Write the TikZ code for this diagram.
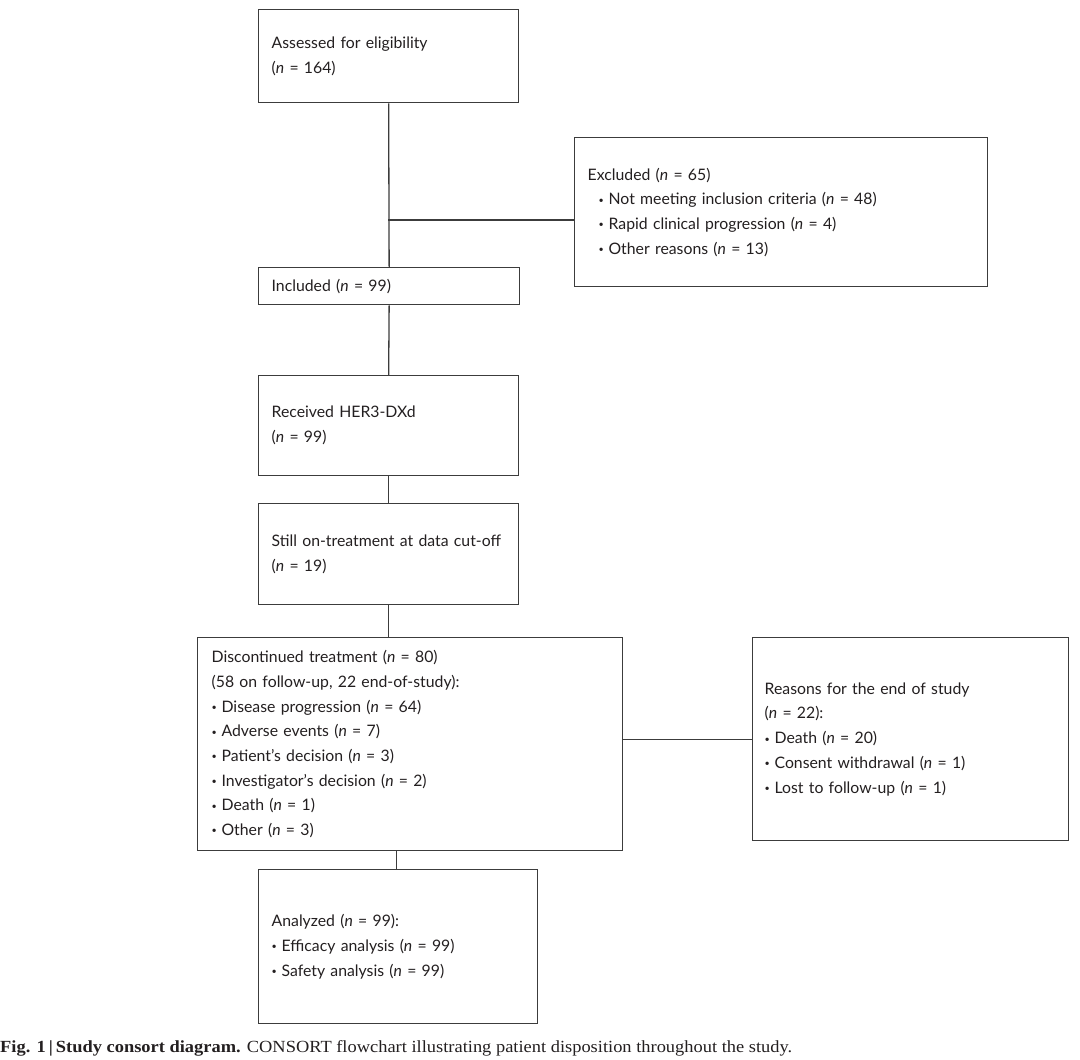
\documentclass[tikz,border=0pt]{standalone}
\usepackage{fontspec}
\usepackage{graphicx}
\setmainfont{Lato}
\newfontfamily\capfont{Liberation Serif}
\definecolor{linecol}{HTML}{3C3C3C}
\definecolor{textcol}{HTML}{231F20}
\newcommand{\nn}{\textit{n}}
\newcommand{\bul}{\raisebox{0.2ex}{\fontsize{9}{9}\selectfont\textbullet}\hspace{0.3em}}
\begin{document}
\begin{tikzpicture}[x=1pt,y=-1pt,
  box/.style={draw=linecol, line width=1.3pt, inner xsep=13pt, inner ysep=0pt,
    align=left, anchor=north west, text=textcol,
    font=\fontsize{15.8}{24.7}\selectfont},
  conn/.style={draw=linecol, line width=1.3pt}]
\useasboundingbox (0,0) rectangle (1080,1060);

\node[box, text width=234pt, minimum height=93pt] (b1) at (258,9)
  {Assessed for eligibility\\(\nn{} = 164)};
\node[box, text width=387pt, minimum height=149pt] (excl) at (574,137)
  {Excluded (\nn{} = 65)\\
   \hspace*{11pt}\bul Not meeting inclusion criteria (\nn{} = 48)\\
   \hspace*{11pt}\bul Rapid clinical progression (\nn{} = 4)\\
   \hspace*{11pt}\bul Other reasons (\nn{} = 13)};
\node[box, text width=235pt, minimum height=37pt] (incl) at (258,267)
  {Included (\nn{} = 99)};
\node[box, text width=234pt, minimum height=100pt] (recv) at (258,375)
  {Received HER3-DXd\\(\nn{} = 99)};
\node[box, text width=234pt, minimum height=101pt] (still) at (258,503)
  {Still on-treatment at data cut-off\\(\nn{} = 19)};
\node[box, inner xsep=14pt, text width=397pt, minimum height=213pt] (disc) at (197,637)
  {Discontinued treatment (\nn{} = 80)\\
   (58 on follow-up, 22 end-of-study):\\
   \bul Disease progression (\nn{} = 64)\\
   \bul Adverse events (\nn{} = 7)\\
   \bul Patient’s decision (\nn{} = 3)\\
   \bul Investigator’s decision (\nn{} = 2)\\
   \bul Death (\nn{} = 1)\\
   \bul Other (\nn{} = 3)};
\node[box, inner xsep=12pt, text width=292pt, minimum height=203pt] (reas) at (752,637)
  {Reasons for the end of study\\
   (\nn{} = 22):\\
   \bul Death (\nn{} = 20)\\
   \bul Consent withdrawal (\nn{} = 1)\\
   \bul Lost to follow-up (\nn{} = 1)};
\node[box, text width=253pt, minimum height=154pt] (anal) at (258,869)
  {Analyzed (\nn{} = 99):\\
   \bul Efficacy analysis (\nn{} = 99)\\
   \bul Safety analysis (\nn{} = 99)};

\coordinate (j) at (388,220);
\draw[conn] (b1.south) -- (incl.north);
\draw[conn] (j) -- (j -| excl.west);
\draw[conn] (incl.south) -- (recv.north);
\draw[conn] (recv.south) -- (still.north);
\draw[conn] (still.south) -- (still.south |- disc.north);
\draw[conn] (reas.west) -- (reas.west -| disc.east);
\draw[conn] ([xshift=-2pt]anal.north) -- ([xshift=-2pt]anal.north |- disc.south);

\node[anchor=base west, inner sep=0pt, text=textcol] (cap) at (0,1052)
  {\resizebox{792pt}{\height}{\capfont\fontsize{17}{17}\selectfont\textbf{Fig. 1\,|\,Study consort diagram.} CONSORT flowchart illustrating patient disposition throughout the study.}};
\end{tikzpicture}
\end{document}
